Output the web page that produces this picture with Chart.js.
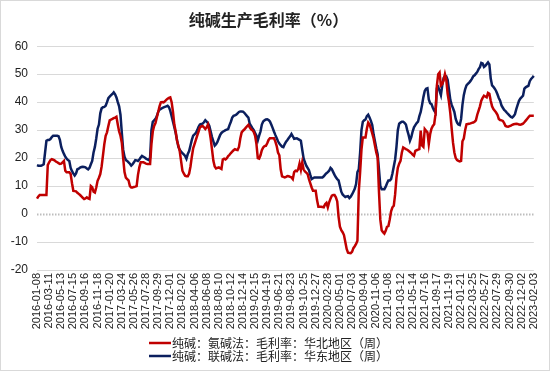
<!DOCTYPE html>
<html>
<head>
<meta charset="utf-8">
<script src="https://cdn.jsdelivr.net/npm/chart.js@4.4.1/dist/chart.umd.min.js"></script>
<style>
  html, body { margin: 0; padding: 0; background: #fff; }
  #wrap { width: 550px; height: 371px; }
</style>
</head>
<body>
<div id="wrap"><canvas id="chart" width="550" height="371"></canvas></div>
<script>
// weekly series, first week 2016-01-08
const firstWeek = [2016, 0, 8];
const tickEvery = 9; // a date label every 9 weeks

const northLabel = '纯碱：氨碱法：毛利率：华北地区（周）';
const eastLabel = '纯碱：联碱法：毛利率：华东地区（周）';

// 氨碱法 华北 (red)
const northRate = [
  5.5,6.3,6.8,6.8,6.8,6.8,6.8,6.8,17.5,18.5,
  19.3,19.6,19.4,19.2,18.8,18.5,18.2,17.9,18,18.5,
  19,15.5,14.9,14.9,14.9,14.3,11,8.3,8.2,8.1,
  7.6,7.2,6.8,6.3,5.8,5.4,5.6,6,5.6,5.4,
  10,9.6,8,7.7,9.5,11.9,13,14.3,17,21,
  25,28,29.2,31.5,33.5,33.8,34,34.3,34.5,34.8,
  32,29.5,28,25.5,20,15,13,12.5,12,10,
  9.5,9.5,9.7,9.8,10,14,16.7,18.5,18.5,18.5,
  18.3,18,17.9,17.9,17.9,25,29.5,31.5,32.5,34.5,
  36.5,38.5,39.9,40,39.9,40.3,40.8,41.2,41.5,41.7,
  40,36.5,32,29.5,26.2,24.5,22.5,19,15.5,14.5,
  13.7,13.5,13.5,14.5,17,20.5,23.5,25,26.5,28,
  29.5,31,31.3,31.5,31,30.4,31,32,30,27,
  23,19,17,16.3,16.5,16.7,16.4,16.1,19.5,19.8,
  19.5,20,20.7,21.2,21.8,22.3,22.8,23.2,23,22.9,
  24,27,29.2,29.8,30.2,30.8,31.4,31.9,31,30.3,
  30,29.3,28,25,20,19.8,21,22.8,23.8,24.3,
  24.4,25.3,26.5,27.1,27.1,27.1,27.1,26,24.4,22,
  21,16,13.5,13.3,13.1,13.3,13.6,13.5,13.3,13.1,
  12.5,15,15.5,15.3,16,18,15.8,18.5,16,15.2,
  14.8,14.3,12.5,11,9.5,8.3,8.3,8.3,5,2.6,
  2.6,2.6,2.5,2.4,3.5,4,2.4,4.2,5.5,6.6,
  6.8,6.8,6,4.5,-1,-4.5,-5.8,-6.5,-7.5,-10,
  -12.5,-13.8,-13.9,-14,-13.5,-12.2,-11.5,-10.7,-9.5,8,
  15,23,27.4,27.4,27.4,30.5,32.7,32,30.5,28.8,
  27,24.5,22,20.2,8,-2,-5.8,-6.5,-7,-6,
  -4.5,-4.3,-2,1,2.4,3,7,13,16.5,18,
  19,22,23.8,23.5,23.2,23,22.6,22.2,21.8,21.2,
  20.8,22.6,22.8,23,23.2,29.8,24.5,24,30.4,29.8,
  29.2,25,28.5,30.5,31.5,32.1,35.7,45.8,50,50.6,
  46,46.5,47.8,50,48,43,40,36,30.5,25.5,
  22,20,19.3,19,18.8,19,26,27,30,32.1,
  32.2,32.3,32.4,32.6,32.7,33,33.5,35.5,37,38.5,
  40.5,41.5,42.3,42,41.7,43.3,43,40.5,38.5,37.5,
  36.9,36.3,35.5,34,33.6,33.5,33.3,32.5,31.5,31.3,
  31.2,31.4,31.6,31.9,32.1,32.2,32.3,32.2,32,31.9,
  32.1,32.3,32.8,33.4,34,34.6,35.1,35.1,35.1,35.1
];

// 联碱法 华东 (navy)
const eastRate = [
  17.5,17.3,17.3,17.3,17.5,17.8,22,26.2,26.5,26.5,
  26.8,27.5,28,28,28,28,27.8,26.5,24,22.6,
  21.5,20.5,19.8,19.3,19,16.5,15.3,14.5,13.8,14.5,
  16,16.2,16.6,16.8,16.9,16.8,16.7,16.3,16,16.5,
  17.8,19,22,24,27,30.5,32,36,37.8,38.2,
  38.3,38.7,40,41.4,42,42.5,42.9,43.5,42.8,41.7,
  40,38.5,35.5,29,23,20.5,19.3,19,18.5,18,
  17.3,17.8,18.5,19.3,19.2,19,19.5,20.2,20.8,20.5,
  20.2,19.8,19.5,19.3,20.2,30,33,33.5,34,35,
  36.5,37.3,37.6,37.9,38.1,38.3,38.5,38.7,38.2,36.9,
  35,33,31,29,26.5,24,23,22.3,21.8,21.3,
  20.8,19.8,21.5,22.5,24.5,26.5,28,28.5,29,30,
  31.2,32,32.2,32.3,32.8,33.5,33,32.5,31.5,29.5,
  27.5,26,24.5,25,25.8,27,28.2,29,29.4,29.7,
  30,30.2,30.4,31.8,33,34.5,35.1,35.3,35.5,36,
  36.5,36.7,36.7,36.6,36.2,35.6,35,34.5,32.3,31.5,
  30.7,30,29,28,26.3,28,29.5,32,33.1,33.5,
  33.8,33.9,33.6,33.1,32,30.8,29.5,28.3,27.2,26,
  25.2,24.6,24.1,23.9,25,25.9,26.5,27.2,27.8,28.6,
  27.8,26.9,27,27.1,26.8,26.5,26.2,23,20,18.5,
  17.3,16.5,15.7,14,12.5,12.8,13.1,13.1,13.1,13.1,
  13.1,13.1,13.1,13.5,14.1,14.6,15,15.5,16.5,16,
  15,14,13.1,12.5,12,10,8,7,6.5,6.1,
  6.3,6.4,5.7,6.2,7,8,9,10.7,15,16,
  22,30,33,33.5,33.8,35,35.5,34.5,33.3,31.8,
  28.5,26,23.5,21.4,16,10,8.9,8.9,8.9,9.8,
  11,12,12,12.5,14.5,17,19.5,24,30,32.3,
  32.7,33,33,32.6,32,30,28.3,26.2,27.5,29.5,
  31,31.8,32.5,33,35,36.5,39,41.8,44,44.8,
  45,41,39.6,39.3,38,37,36.3,45,45.5,44,
  42.5,46,48.6,49.3,49.2,48,44.5,40.8,39,37.8,
  36.5,34,32.7,32,31.8,34,39,42.5,44.6,46,
  46.5,47,47.6,48.3,49.2,49.6,50.2,50.8,51.8,52.5,
  54,53.8,52.6,53,53.6,54.2,53.5,48.5,46,45.5,
  44.8,44,42.8,41.5,40.5,38.8,38,37.2,36.8,36.2,
  35.7,35.2,34.7,34.5,35,35.7,37.5,39,40.5,41.3,
  41.8,42.3,44.8,45.3,45.6,45.8,47.5,48.3,48.8,49.4
];

const yTicks = { min: -20, max: 60, step: 10 };

// weekly date categories
const weeks = [];
for (let i = 0; i < northRate.length; i++) {
  const d = new Date(Date.UTC(firstWeek[0], firstWeek[1], firstWeek[2] + 7 * i));
  weeks.push(d.toISOString().slice(0, 10));
}

const latin = 'Arial, "Liberation Sans", "Noto Sans CJK SC", sans-serif';
const cjk = '"Noto Sans CJK SC", "Noto Sans", sans-serif';

// dashed zero line, frame and two-row legend
const extras = {
  id: 'extras',
  beforeDatasetsDraw(chart) {
    const { ctx, chartArea } = chart;
    const y = Math.round(chart.scales.y.getPixelForValue(0)) + 0.5;
    ctx.save();
    ctx.strokeStyle = '#bdbdbd';
    ctx.lineWidth = 2;
    ctx.setLineDash([1.5, 1.5]);
    ctx.beginPath();
    ctx.moveTo(chartArea.left, y);
    ctx.lineTo(chartArea.right, y);
    ctx.stroke();
    ctx.restore();
  },
  afterDraw(chart) {
    const { ctx } = chart;
    ctx.save();
    ctx.strokeStyle = '#d9d9d9';
    ctx.lineWidth = 1;
    ctx.strokeRect(0.5, 0.5, chart.width - 1, chart.height - 1);

    ctx.font = '12px ' + cjk;
    ctx.textBaseline = 'middle';
    ctx.fillStyle = '#222';
    chart.data.datasets.forEach((ds, i) => {
      const y = 343 + i * 13;
      ctx.strokeStyle = ds.borderColor;
      ctx.lineWidth = 2.5;
      ctx.beginPath();
      ctx.moveTo(149, y);
      ctx.lineTo(171, y);
      ctx.stroke();
      ctx.fillText(ds.label, 172, y);
    });
    ctx.restore();
  }
};

new Chart(document.getElementById('chart'), {
  type: 'line',
  data: {
    labels: weeks,
    datasets: [{
      label: northLabel,
      data: northRate,
      borderColor: '#c00000',
      borderWidth: 2.5,
      pointRadius: 0,
      tension: 0,
      fill: false
    }, {
      label: eastLabel,
      data: eastRate,
      borderColor: '#0b1f5e',
      borderWidth: 2.5,
      pointRadius: 0,
      tension: 0,
      fill: false
    }]
  },
  options: {
    responsive: false,
    animation: false,
    layout: {
      padding: { left: 0, right: 13, top: 0, bottom: 39 }
    },
    scales: {
      x: {
        grid: { display: false, drawTicks: false },
        border: { display: false },
        ticks: {
          autoSkip: false,
          maxRotation: 90,
          minRotation: 90,
          padding: 3,
          color: '#222',
          font: { family: latin, size: 11 },
          callback: function (val, index) {
            return index % tickEvery === 0 ? this.getLabelForValue(val) : '';
          }
        },
        afterFit(scale) { scale.height = 62; }
      },
      y: {
        min: yTicks.min,
        max: yTicks.max,
        grid: {
          drawTicks: false,
          color: ctx => ctx.tick && ctx.tick.value === 0 ? 'rgba(0,0,0,0)' : '#d9d9d9',
          lineWidth: 1
        },
        border: { display: false },
        ticks: {
          stepSize: yTicks.step,
          padding: 9,
          color: '#222',
          font: { family: latin, size: 12 }
        },
        afterFit(scale) { scale.width = 37; }
      }
    },
    plugins: {
      legend: { display: false },
      tooltip: { enabled: false },
      title: {
        display: true,
        text: '纯碱生产毛利率（%）',
        color: '#222',
        font: { family: cjk, size: 16, weight: 'bold' },
        padding: { top: 10, bottom: 17 }
      }
    }
  },
  plugins: [extras]
});
</script>
</body>
</html>
